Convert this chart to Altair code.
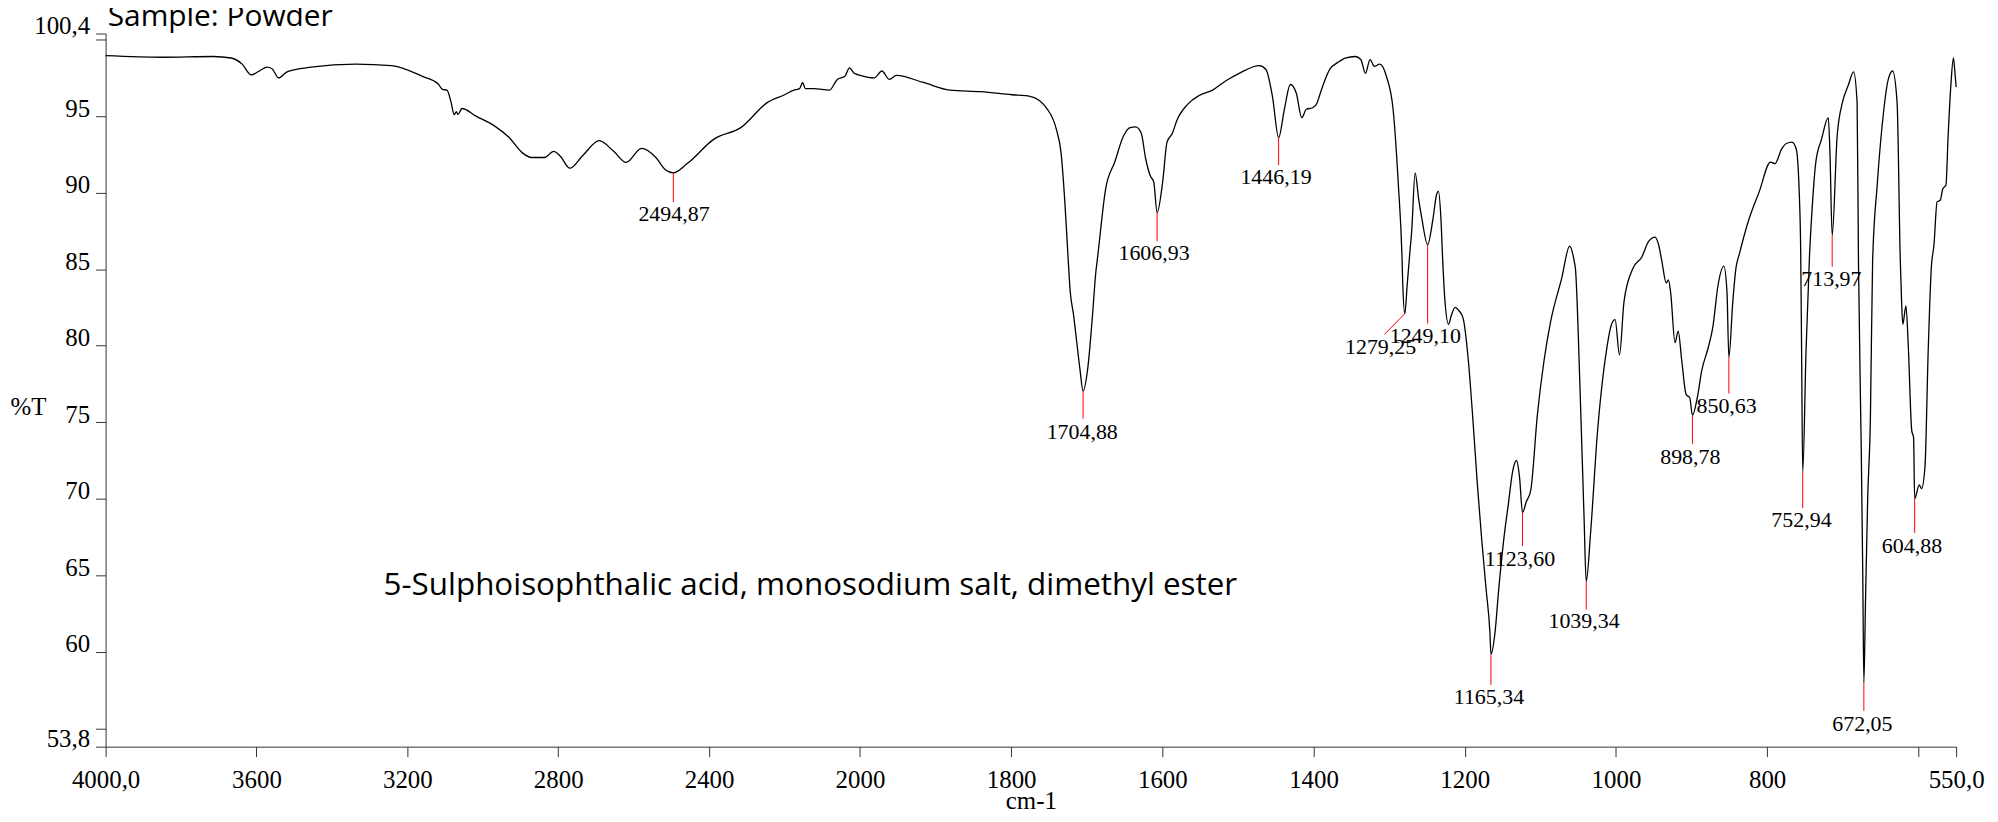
import altair as alt
import pandas as pd

# ---- spectrum (wavenumber cm-1, %T) ----
wn = [4000, 3850, 3715, 3667, 3638, 3614, 3596, 3572, 3559, 3541, 3519, 3455, 3337, 3242,
      3160, 3118, 3107, 3095, 3084, 3076, 3070, 3066, 3055, 3018, 2971, 2930, 2895, 2871,
      2836, 2812, 2795, 2769, 2736, 2691, 2653, 2620, 2579, 2541, 2516, 2494.87, 2458, 2387,
      2316, 2245, 2200, 2175, 2160, 2152, 2145, 2122, 2081, 2060, 2040, 2028, 2015, 2004,
      1981, 1971, 1961, 1952, 1916, 1881, 1840, 1799, 1775, 1752, 1740, 1734, 1729, 1725,
      1722, 1717.4, 1713.4, 1709.1, 1704.88, 1698.5, 1692.7, 1688, 1685.6, 1675, 1663,
      1651.4, 1642.6, 1635.2, 1628, 1622, 1616, 1611.4, 1606.93, 1599.6, 1593.8, 1586.6,
      1581, 1566, 1551.3, 1533.6, 1516.4, 1498.3, 1471.8, 1463, 1454.4, 1446.19, 1438.6,
      1430.7, 1422.8, 1415.6, 1409.6, 1401, 1395, 1392.4, 1378, 1368.3, 1358, 1345, 1337.5,
      1331.3, 1325.3, 1319.5, 1312.5, 1303.6, 1294.8, 1287.8, 1283, 1282, 1279.25, 1276.1,
      1272.6, 1270.3, 1265.6, 1261, 1256.7, 1249.1, 1242, 1237.2, 1234.9, 1231.5, 1229.1,
      1226.3, 1221.4, 1217.6, 1212.6, 1207.9, 1202.2, 1195.2, 1189.4, 1183.4, 1177.5,
      1171.7, 1166.7, 1165.34, 1160, 1155.1, 1148.5, 1142.2, 1136.4, 1131.6, 1127.5, 1123.6,
      1118.6, 1112.7, 1103.9, 1095.2, 1086.3, 1071.8, 1061.3, 1055.1, 1053.6, 1047.7, 1042.2,
      1039.34, 1033.5, 1024.6, 1012.8, 1005.8, 1001.1, 995.3, 989.3, 977.6, 965.8, 957,
      948.3, 943.6, 939.5, 933.5, 930.6, 927.7, 921.8, 917.7, 912.9, 907.1, 902.4, 898.78,
      892.4, 886.6, 877.8, 871.9, 864.8, 857.3, 853.1, 850.63, 845.4, 841.3, 836.7, 825.1,
      810.2, 795.6, 789.6, 780.9, 775, 767.3, 761.5, 757.4, 755.6, 754.4, 752.94, 748.6,
      743.8, 742.6, 735.6, 728, 719.1, 716.9, 713.97, 707.4, 700.4, 692.8, 685.6, 681,
      679.2, 675.5, 673.5, 672.05, 670, 667, 663.4, 660.5, 654.4, 645.6, 639.8, 634, 628.1,
      624, 622.3, 620.6, 616.4, 613.4, 608.7, 606.3, 604.88, 598.8, 595.8, 591.2, 587,
      582.9, 579.3, 575.2, 571.1, 567.6, 563.5, 560.6, 557, 553.6, 552, 550]
trans = [98.95, 98.85, 98.9, 98.8, 98.4, 97.7, 97.9, 98.2, 98.1, 97.5, 97.9, 98.2, 98.4, 98.3,
         97.6, 97.1, 96.75, 96.7, 95.9, 95.1, 95.3, 95.1, 95.5, 95.0, 94.4, 93.6, 92.6, 92.3,
         92.3, 92.7, 92.4, 91.6, 92.4, 93.4, 92.7, 91.98, 92.9, 92.3, 91.5, 91.3, 91.9, 93.5,
         94.25, 95.9, 96.4, 96.7, 96.8, 97.2, 96.8, 96.8, 96.7, 97.4, 97.6, 98.15, 97.8, 97.7,
         97.5, 97.95, 97.4, 97.66, 97.2, 96.7, 96.6, 96.4, 96.3, 95.45, 94.1, 92.6, 89.4, 86.0,
         83.6, 82.0, 80.3, 78.5, 77.05, 78.6, 81.8, 84.8, 85.8, 90.25, 92.0,
         93.7, 94.25, 94.3, 93.9, 92.2, 91.1, 90.7, 88.7, 90.7, 93.3, 93.9,
         94.7, 95.8, 96.35, 96.7, 97.3, 97.8, 98.3, 98.05, 96.3, 93.6, 95.45,
         97.07, 96.5, 94.9, 95.45, 95.55, 95.9, 96.3, 98.1, 98.5, 98.8, 98.9, 98.7,
         97.8, 98.7, 98.25, 98.4, 97.6, 95.45, 90.5, 85.8, 84.0, 82.1, 84.0,
         86.1, 87.4, 91.3, 89.6, 88.3, 86.6, 88.3, 89.9, 90.1, 88.3, 85.5,
         83.0, 81.4, 82.0, 82.5, 82.3, 81.8, 79.0, 75.3, 71.0, 67.3,
         64.06, 61.25, 59.84, 61.25, 64.06, 67.3, 69.7, 71.85, 72.5, 71.4, 69.1,
         69.8, 70.55, 75.5, 79.0, 81.6, 84.4, 86.5, 85.5, 85.05, 77.5, 68.8,
         64.6, 67.8, 74.25, 79.6, 81.4, 81.7, 79.4, 82.9, 85.05, 85.8, 86.8,
         87.1, 86.6, 85.6, 84.1, 84.3, 83.5, 80.2, 80.95, 79.0, 76.8, 76.6, 75.45,
         76.6, 78.35, 79.9, 81.2, 84.0, 85.2, 83.5, 79.25, 82.9, 85.05, 86.0, 88.1,
         90.1, 92.0, 91.9, 92.85, 93.2, 93.3, 92.85, 89.8, 86.1, 79.6, 71.74, 79.6,
         86.1, 87.2, 92.0, 93.5, 94.9, 92.6, 87.2, 93.7, 95.9, 97.0, 97.9, 95.9,
         85.5, 73.2, 65.0, 58.0, 63.0, 70.0, 75.3, 85.5, 90.5, 95.45, 97.4, 97.95, 95.9,
         85.8, 83.1, 81.4, 82.6, 80.1, 74.45, 74.0, 70.0, 70.9, 70.66, 72.1, 79.6,
         85.05, 86.6, 89.4, 89.5, 90.25, 90.5, 93.7, 97.0, 98.8, 98.1, 96.9]

# ---- peak annotations ----
peak_text = ["2494,87", "1704,88", "1606,93", "1446,19", "1279,25", "1249,10", "1165,34",
             "1123,60", "1039,34", "898,78", "850,63", "752,94", "713,97", "672,05", "604,88"]
peak_wn = [2494.87, 1704.88, 1606.93, 1446.19, 1279.25, 1249.10, 1165.34, 1123.60, 1039.34,
           898.78, 850.63, 752.94, 713.97, 672.05, 604.88]
peak_T = [91.3, 77.05, 88.7, 93.6, 82.1, 86.6, 59.84, 69.1, 64.6, 75.45, 79.25, 71.74, 87.2,
          58.0, 70.0]
stem_wn = [2494.87, 1704.88, 1606.93, 1446.19, 1306.3, 1249.10, 1165.34, 1123.60, 1039.34,
           898.78, 850.63, 752.94, 713.97, 672.05, 604.88]
stem_T = [89.38, 75.23, 86.83, 91.8, 80.73, 81.44, 57.83, 66.9, 62.76, 73.59, 76.87, 69.38,
          85.16, 56.14, 67.76]
label_wn = [2493, 1706, 1611, 1449.7, 1311.3, 1252.2, 1168, 1127, 1042.2, 901.6, 853.6, 754.6,
            715, 674, 608.4]
label_T = [88.63, 74.34, 86.03, 91.0, 79.9, 80.64, 57.05, 66.05, 62.0, 72.7, 76.07, 68.6,
           84.38, 55.3, 66.9]

# ---- axes ----
x_ticks = [4000, 3600, 3200, 2800, 2400, 2000, 1800, 1600, 1400, 1200, 1000, 800, 600, 550]
y_ticks = [53.8, 55, 60, 65, 70, 75, 80, 85, 90, 95, 100, 100.4]

# ---- free texts ----
notes_text = ["Sample: Powder", "5-Sulphoisophthalic acid, monosodium salt, dimethyl ester"]
notes_wn = [3994.5, 3263]
notes_T = [100.87, 63.74]
notes_size = [30, 31.5]

spec = pd.DataFrame({"wn": wn, "T": trans})
peaks = pd.DataFrame({"text": peak_text, "wn": peak_wn, "T": peak_T, "wn2": stem_wn,
                      "T2": stem_T, "lwn": label_wn, "lT": label_T})
notes = pd.DataFrame({"text": notes_text, "wn": notes_wn, "T": notes_T, "size": notes_size})

W, H = 1858, 716
xscale = alt.Scale(domain=[4000, 2000, 550], range=[0, 757.4, W], nice=False, zero=False)
yscale = alt.Scale(domain=[53.8, 100.4], nice=False, zero=False)

serif = "'Liberation Serif', 'Times New Roman', Times, serif"

xaxis = alt.Axis(
    values=x_ticks,
    labelExpr="datum.value == 4000 ? '4000,0' : datum.value == 550 ? '550,0' : "
              "datum.value == 600 ? '' : format(datum.value, 'd')",
    labelFont=serif, labelFontSize=25, labelColor="black", labelFlush=False,
    labelOverlap=False, labelBaseline="alphabetic", labelPadding=31,
    tickSize=10, tickColor="#333", domainColor="#333", grid=False,
    title="cm-1", titleFont=serif, titleFontSize=25, titleFontWeight="normal",
    titleColor="black", titleBaseline="alphabetic", titleY=62,
)
yaxis = alt.Axis(
    values=y_ticks,
    labelExpr="abs(datum.value - 100.4) < 0.01 ? '100,4' : abs(datum.value - 53.8) < 0.01 ? '53,8' : "
              "(datum.value == 55 || datum.value == 100) ? '' : format(datum.value, 'd')",
    labelFont=serif, labelFontSize=25, labelColor="black", labelOverlap=False,
    labelBaseline="alphabetic", labelPadding=6, labelFlush=False,
    tickSize=10, tickColor="#333", domainColor="#333", grid=False,
    title="%T", titleFont=serif, titleFontSize=25, titleFontWeight="normal",
    titleColor="black", titleAngle=0, titleAlign="center", titleBaseline="alphabetic",
    titleX=-78, titleY=383,
)

line = alt.Chart(spec).mark_line(color="black", strokeWidth=1.3, interpolate="monotone").encode(
    x=alt.X("wn:Q", scale=xscale, axis=xaxis),
    y=alt.Y("T:Q", scale=yscale, axis=yaxis),
    order=alt.Order("wn:Q", sort="descending"),
)

stems = alt.Chart(peaks).mark_rule(color="#ff0000", strokeWidth=1).encode(
    x=alt.X("wn:Q", scale=xscale),
    x2="wn2:Q",
    y=alt.Y("T:Q", scale=yscale),
    y2="T2:Q",
)

labels = alt.Chart(peaks).mark_text(font=serif, fontSize=22, color="black",
                                    align="center", baseline="middle").encode(
    x=alt.X("lwn:Q", scale=xscale),
    y=alt.Y("lT:Q", scale=yscale),
    text="text:N",
)

note_marks = alt.Chart(notes).mark_text(font="Open Sans", color="black",
                                        align="left", baseline="alphabetic").encode(
    x=alt.X("wn:Q", scale=xscale),
    y=alt.Y("T:Q", scale=yscale),
    size=alt.Size("size:Q", scale=None, legend=None),
    text="text:N",
)

chart = alt.layer(line, stems, labels, note_marks).properties(
    width=W, height=H,
    padding={"left": 98, "top": 24, "right": 34, "bottom": 66},
    autosize=alt.AutoSizeParams(type="none"),
).configure(
    background="white",
    view=alt.ViewConfig(strokeWidth=0),
    axis=alt.AxisConfig(labelFont=serif, titleFont=serif, labelFontSize=25,
                        titleFontSize=25, labelColor="black", titleColor="black"),
)

chart.save("out.html", embed_options={"renderer": "svg", "actions": False})
